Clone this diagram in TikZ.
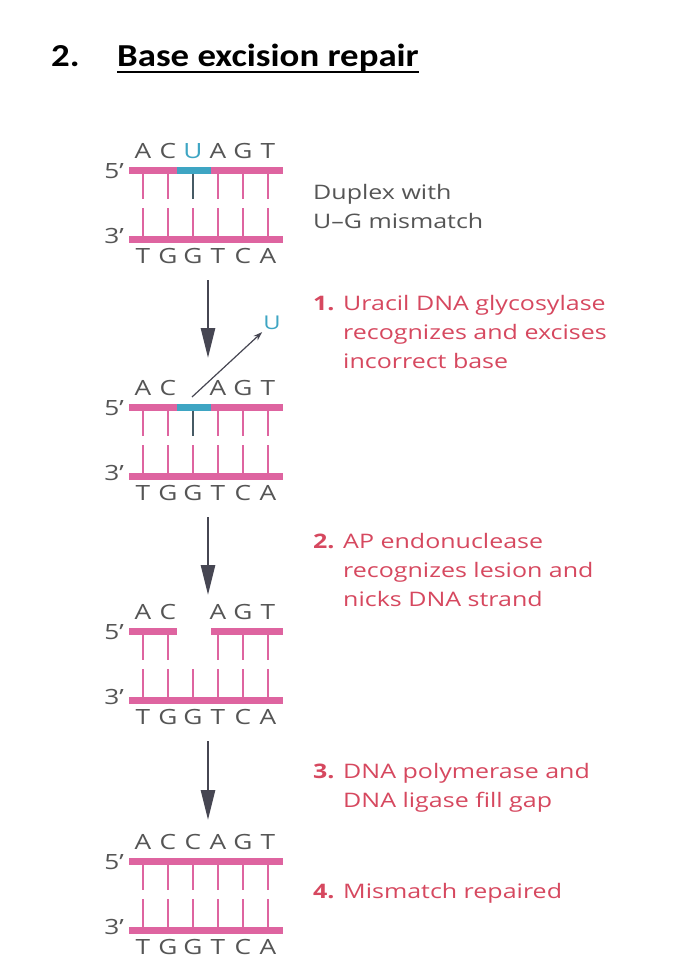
\documentclass[tikz,border=0pt]{standalone}
\usepackage{fontspec}
\setmainfont{Open Sans}[FakeStretch=1.25]
\newfontfamily\titlefont{Carlito}[FakeStretch=1.15]
\usetikzlibrary{arrows.meta, positioning}
\definecolor{dnapink}{RGB}{222,100,160}
\definecolor{mismatch}{RGB}{62,165,195}
\definecolor{rungdark}{RGB}{70,90,100}
\definecolor{basegray}{RGB}{85,85,85}
\definecolor{arrowgray}{RGB}{70,70,82}
\definecolor{steptext}{RGB}{214,72,95}
\tikzstyle{strand}    = [fill=dnapink]
\tikzstyle{rung}      = [draw=dnapink, line width=2pt]
\tikzstyle{base}      = [text=basegray, anchor=base, inner sep=0pt, font=\fontsize{21}{21}\selectfont]
\tikzstyle{endlabel}  = [text=basegray, inner sep=0pt, font=\fontsize{21}{21}\selectfont]
\tikzstyle{bigarrow}  = [draw=arrowgray, line width=2.6pt, -{Triangle[length=30pt, width=14pt]}]
\tikzstyle{smallarrow}= [draw=arrowgray, line width=1.2pt, -{Stealth[length=9pt, width=6pt]}]
\tikzstyle{note}      = [anchor=base west, inner sep=0pt, font=\fontsize{20}{20}\selectfont]
\tikzstyle{titletext} = [anchor=base west, inner sep=0pt, font=\titlefont\bfseries\fontsize{32}{32}\selectfont]

\begin{document}
\begin{tikzpicture}[x=1pt, y=-1pt]
\useasboundingbox (0,0) rectangle (692,970);
\clip (0,0) rectangle (692,958);

% nadpis
\node[titletext] (num)   at (51,66)  {2.};
\node[titletext] (title) at (117,66) {Base excision repair};
\draw[line width=2pt] ([yshift=-6pt]title.base west) -- ([yshift=-6pt]title.base east);

% spodni retezec a konce -- stejne ve vsech krocich
\foreach \y/\p in {170/1, 407/2, 631/3, 861/4} {
  \fill[strand] (129,{\y+65.5}) rectangle (283,{\y+72.5});
  \foreach \x in {143,168,193,218,243,268}
    \draw[rung] (\x,{\y+38}) -- (\x,{\y+65.5});
  \foreach \b [count=\i from 0] in {T,G,G,T,C,A}
    \node[base] (bot\p-\i) at ({143+25*\i},{\y+93}) {\b};
  \node[endlabel] (five\p)  at (114,{\y+1})  {5’};
  \node[endlabel] (three\p) at (114,{\y+66}) {3’};
}

% krok 0: duplex s U-G
\fill[strand]   (129,166.5) rectangle (283,173.5);
\fill[mismatch] (177,166.5) rectangle (211,173.5);
\foreach \x in {143,168,218,243,268}
  \draw[rung] (\x,173.5) -- (\x,199);
\draw[rung, draw=rungdark] (193,173.5) -- (193,199);
\foreach \b/\c [count=\i from 0] in {A/basegray,C/basegray,U/mismatch,A/basegray,G/basegray,T/basegray}
  \node[base, text=\c] (top1-\i) at ({143+25*\i},158) {\b};

% krok 1: odstraneni baze
\fill[strand]   (129,403.5) rectangle (283,410.5);
\fill[mismatch] (177,403.5) rectangle (211,410.5);
\foreach \x in {143,168,218,243,268}
  \draw[rung] (\x,410.5) -- (\x,436);
\draw[rung, draw=rungdark] (193,410.5) -- (193,436);
\foreach \b/\i in {A/0,C/1,A/3,G/4,T/5}
  \node[base] (top2-\i) at ({143+25*\i},395) {\b};
\node[text=mismatch, inner sep=2pt, font=\fontsize{19}{19}\selectfont] (uracil) at (272,323) {U};
\coordinate (site) at (192,397);
\draw[smallarrow] (site) -- (uracil);

% krok 2: nick
\fill[strand] (129,627.5) rectangle (177,634.5);
\fill[strand] (211,627.5) rectangle (283,634.5);
\foreach \x in {143,168,218,243,268}
  \draw[rung] (\x,634.5) -- (\x,660);
\foreach \b/\i in {A/0,C/1,A/3,G/4,T/5}
  \node[base] (top3-\i) at ({143+25*\i},619) {\b};

% krok 3: opraveno
\fill[strand] (129,857.5) rectangle (283,864.5);
\foreach \x in {143,168,193,218,243,268}
  \draw[rung] (\x,864.5) -- (\x,890);
\foreach \b [count=\i from 0] in {A,C,C,A,G,T}
  \node[base] (top4-\i) at ({143+25*\i},849) {\b};

% sipky mezi kroky
\coordinate (a1s) at (208,280); \coordinate (a1e) at (208,358);
\coordinate (a2s) at (208,517); \coordinate (a2e) at (208,595);
\coordinate (a3s) at (208,741); \coordinate (a3e) at (208,820);
\draw[bigarrow] (a1s) -- (a1e);
\draw[bigarrow] (a2s) -- (a2e);
\draw[bigarrow] (a3s) -- (a3e);

% popisky
\node[note, text=basegray] (d1) at (313,199) {Duplex with};
\node[note, text=basegray] (d2) at ([yshift=-29pt]d1.base west) {U--G mismatch};

\node[note, text=steptext, font=\fontsize{20}{20}\selectfont\bfseries] (n1) at (313,310) {1.};
\node[note, text=steptext] (s1a) at (343,310) {Uracil DNA glycosylase};
\node[note, text=steptext] (s1b) at ([yshift=-29pt]s1a.base west) {recognizes and excises};
\node[note, text=steptext] (s1c) at ([yshift=-29pt]s1b.base west) {incorrect base};

\node[note, text=steptext, font=\fontsize{20}{20}\selectfont\bfseries] (n2) at (313,548) {2.};
\node[note, text=steptext] (s2a) at (343,548) {AP endonuclease};
\node[note, text=steptext] (s2b) at ([yshift=-29pt]s2a.base west) {recognizes lesion and};
\node[note, text=steptext] (s2c) at ([yshift=-29pt]s2b.base west) {nicks DNA strand};

\node[note, text=steptext, font=\fontsize{20}{20}\selectfont\bfseries] (n3) at (313,778) {3.};
\node[note, text=steptext] (s3a) at (343,778) {DNA polymerase and};
\node[note, text=steptext] (s3b) at ([yshift=-29pt]s3a.base west) {DNA ligase fill gap};

\node[note, text=steptext, font=\fontsize{20}{20}\selectfont\bfseries] (n4) at (313,898) {4.};
\node[note, text=steptext] (s4a) at (343,898) {Mismatch repaired};

\end{tikzpicture}
\end{document}
